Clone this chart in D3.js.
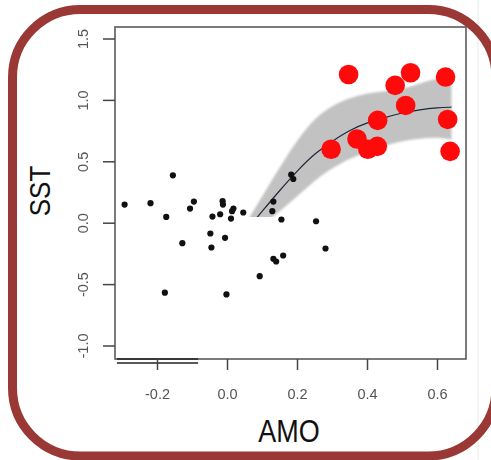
<!DOCTYPE html>
<html><head><meta charset="utf-8">
<script src="https://cdn.jsdelivr.net/npm/d3@7"></script>
<style>body{margin:0;background:#fff}svg{display:block}</style>
</head><body>
<script>
// Data
const blackAMO = [-0.294,-0.22,-0.156,-0.175,-0.096,-0.107,-0.129,-0.179,-0.014,-0.013,-0.021,-0.043,0.017,0.013,0.010,0.045,-0.049,-0.046,-0.007,-0.003,0.092,0.131,0.139,0.159,0.131,0.128,0.154,0.182,0.188,0.253,0.280];
const blackSST = [0.152,0.163,0.39,0.051,0.176,0.119,-0.163,-0.566,0.179,0.152,0.073,0.054,0.119,0.098,0.038,0.087,-0.084,-0.198,-0.119,-0.58,-0.431,-0.29,-0.312,-0.263,0.176,0.098,0.030,0.395,0.36,0.016,-0.206];
const redAMO = [0.346,0.479,0.523,0.623,0.509,0.429,0.629,0.296,0.37,0.401,0.428,0.636];
const redSST = [1.211,1.122,1.225,1.19,0.959,0.837,0.845,0.602,0.686,0.602,0.626,0.585];
const fitAMO   = [0.05,0.1,0.15,0.2,0.25,0.3,0.35,0.4,0.45,0.5,0.55,0.6,0.64];
const fitSST   = [-0.07,0.10,0.27,0.43,0.57,0.67,0.76,0.82,0.86,0.90,0.925,0.94,0.945];
const fitUpper = [-0.01,0.22,0.46,0.68,0.86,0.96,1.02,1.06,1.075,1.09,1.14,1.18,1.2];
const fitLower = [-0.15,-0.02,0.10,0.22,0.35,0.45,0.53,0.58,0.63,0.67,0.69,0.70,0.68];
const xTicks = [-0.2,0.0,0.2,0.4,0.6];
const yTicks = [-1.0,-0.5,0.0,0.5,1.0,1.5];
const bandCut = 0.05;

const W=491,H=460;
const svg=d3.select("body").append("svg").attr("width",W).attr("height",H);
const x=d3.scaleLinear().domain([-0.2,0.6]).range([157.5,437.5]);
const y=d3.scaleLinear().domain([-1,1.5]).range([346,39]);
const fmt=t=>d3.format(".1f")(t).replace("\u2212","-");

const defs=svg.append("defs");
defs.append("filter").attr("id","soft").append("feGaussianBlur").attr("stdDeviation",1.3);
defs.append("filter").attr("id","soft2").append("feGaussianBlur").attr("stdDeviation",0.45);
defs.append("clipPath").attr("id","cut").append("rect")
  .attr("x",115).attr("y",27).attr("width",351).attr("height",y(bandCut)-27);

svg.append("rect").attr("width",W).attr("height",H).attr("fill","#fff");
svg.append("line").attr("x1",478).attr("x2",478).attr("y1",0).attr("y2",H).attr("stroke","#ececec").attr("stroke-width",1.2);

const band=d3.area().x((d,i)=>x(fitAMO[i])).y0((d,i)=>y(fitLower[i])).y1((d,i)=>y(fitUpper[i])).curve(d3.curveBasis);
const g=svg.append("g").attr("clip-path","url(#cut)");
g.append("path").datum(fitAMO).attr("d",band).attr("fill","#c2c2c2").attr("filter","url(#soft)");
const line=d3.line().x((d,i)=>x(fitAMO[i])).y((d,i)=>y(fitSST[i])).curve(d3.curveBasis);
g.append("path").datum(fitAMO).attr("d",line).attr("fill","none").attr("stroke","#1f2838").attr("stroke-width",1.2);

// frame
svg.append("rect").attr("x",115).attr("y",27).attr("width",351).attr("height",332)
  .attr("fill","none").attr("stroke","#5a5a5a").attr("stroke-width",1.6).attr("filter","url(#soft2)");
[359,363].forEach(yy=>svg.append("line").attr("x1",x(-0.316)).attr("x2",x(-0.084)).attr("y1",yy).attr("y2",yy).attr("stroke","#222").attr("stroke-width",1.3));

const ax=svg.append("g").attr("filter","url(#soft2)");
xTicks.forEach(t=>{
  ax.append("line").attr("x1",x(t)).attr("x2",x(t)).attr("y1",359).attr("y2",370).attr("stroke","#444").attr("stroke-width",1.5);
  ax.append("text").attr("x",x(t)).attr("y",399).attr("text-anchor","middle")
    .attr("font-family","Liberation Sans, Arial, sans-serif").attr("font-size",14.5).attr("fill","#555").text(fmt(t));
});
yTicks.forEach(t=>{
  ax.append("line").attr("x1",103).attr("x2",115).attr("y1",y(t)).attr("y2",y(t)).attr("stroke","#444").attr("stroke-width",1.5);
  ax.append("text").attr("transform",`translate(88,${y(t)}) rotate(-90)`).attr("text-anchor","middle")
    .attr("font-family","Liberation Sans, Arial, sans-serif").attr("font-size",14.5).attr("fill","#555").text(fmt(t));
});

svg.append("g").selectAll("circle").data(blackAMO).join("circle")
  .attr("cx",(d)=>x(d)).attr("cy",(d,i)=>y(blackSST[i])).attr("r",3.1).attr("fill","#111");
svg.append("g").selectAll("circle").data(redAMO).join("circle")
  .attr("cx",(d)=>x(d)).attr("cy",(d,i)=>y(redSST[i])).attr("r",9.8).attr("fill","#ff0a0a");

svg.append("text").attr("transform","translate(289,442) scale(1,1.15)").attr("text-anchor","middle")
  .attr("font-family","Liberation Sans, Arial, sans-serif").attr("font-size",27).attr("fill","#111").text("AMO");
svg.append("text").attr("transform","translate(50,191) rotate(-90) scale(1,1.15)").attr("text-anchor","middle")
  .attr("font-family","Liberation Sans, Arial, sans-serif").attr("font-size",26).attr("fill","#111").text("SST");

svg.append("rect").attr("x",12.5).attr("y",9.5).attr("width",483.5).attr("height",446.5).attr("rx",68)
  .attr("fill","none").attr("stroke","#993835").attr("stroke-width",9);
</script>
</body></html>
